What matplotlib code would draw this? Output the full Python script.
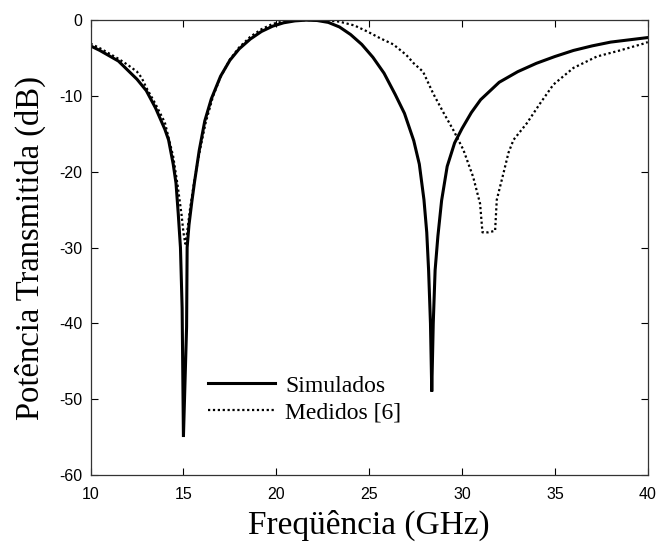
import matplotlib
matplotlib.use("Agg")
import matplotlib.pyplot as plt

plt.rcParams['axes.unicode_minus'] = False

# Simulated transmission (GHz, dB)
sim_freq = [10, 10.5, 11, 11.5, 12, 12.5, 13, 13.5, 14, 14.2, 14.45, 14.6, 14.72, 14.84,
            14.93, 15.0, 15.17, 15.2, 15.3, 15.45, 15.6, 15.85, 16.15, 16.5, 17, 17.5,
            18, 18.6, 19.2, 19.8, 20.4, 21, 21.6, 22.2, 22.8, 23.4, 24, 24.6, 25.2,
            25.8, 26.4, 26.9, 27.4, 27.7, 27.95, 28.1, 28.2, 28.3, 28.37, 28.45, 28.55,
            28.7, 28.9, 29.2, 29.6, 30, 30.5, 31, 32, 33, 34, 35, 36, 37, 38, 39, 40]
sim_db = [-3.4, -4.0, -4.7, -5.4, -6.6, -7.8, -9.3, -11.6, -14.4, -15.8, -19.0, -21.5,
          -25.5, -30.0, -38.0, -55.0, -40.5, -30.0, -27.0, -24.0, -21.3, -17.2, -13.3,
          -10.4, -7.4, -5.3, -3.8, -2.5, -1.5, -0.8, -0.35, -0.1, 0.0, -0.05, -0.3,
          -0.9, -1.9, -3.2, -4.9, -7.0, -9.8, -12.3, -15.9, -19.0, -23.7, -28.0, -33.0,
          -40.0, -49.0, -40.0, -33.0, -28.5, -23.8, -19.3, -16.2, -14.3, -12.2, -10.5,
          -8.2, -6.8, -5.7, -4.8, -4.0, -3.4, -2.9, -2.6, -2.3]

# Measured transmission [6] (GHz, dB)
meas_freq = [10, 10.5, 11, 11.5, 12, 12.5, 12.75, 13.0, 13.46, 14.0, 14.45, 14.7, 14.9,
             15.0, 15.1, 15.2, 15.35, 15.6, 15.9, 16.2, 16.6, 17.0, 17.5, 18, 18.6,
             19.2, 19.8, 20.4, 21, 22, 22.8, 23.4, 24.2, 24.9, 25.6, 26.3, 27.0, 27.4,
             27.9, 28.45, 29.0, 29.53, 30.07, 30.6, 30.97, 31.1, 31.4, 31.78, 31.87,
             32.23, 32.5, 32.77, 33.49, 34.2, 34.92, 36.0, 37.26, 38.5, 39.77, 40]
meas_db = [-3.1, -3.7, -4.4, -5.1, -5.9, -6.8, -7.6, -8.9, -10.9, -13.5, -18.0, -22.0,
           -25.7, -28.0, -29.5, -28.0, -25.0, -21.0, -17.0, -13.5, -10.0, -7.5, -5.2,
           -3.6, -2.2, -1.2, -0.5, -0.15, 0.0, 0.0, -0.05, -0.2, -0.7, -1.5, -2.4,
           -3.2, -4.6, -5.7, -6.8, -9.7, -12.2, -14.5, -17.1, -20.7, -24.2, -28.0,
           -28.0, -27.8, -23.7, -20.2, -17.5, -15.8, -13.6, -11.0, -8.5, -6.3, -4.8,
           -4.0, -3.1, -2.9]

x_ticks = [10, 15, 20, 25, 30, 35, 40]
y_ticks = [0, -10, -20, -30, -40, -50, -60]

fig = plt.figure(figsize=(6.61, 5.44), dpi=100)
ax = fig.add_axes([0.137, 0.127, 0.843, 0.836])

ax.plot(sim_freq, sim_db, color='black', linewidth=2.2, solid_joinstyle='miter',
        label='Simulados')
ax.plot(meas_freq, meas_db, color='black', linewidth=1.6, linestyle=(0, (1, 1.2)),
        label='Medidos [6]')

ax.set_xlim(10, 40)
ax.set_ylim(-60, 0)
ax.set_xticks(x_ticks)
ax.set_yticks(y_ticks)
ax.tick_params(direction='in', length=5, width=0.8, top=True, right=True,
               labelsize=11.5)
ax.tick_params(axis='x', pad=9)
ax.tick_params(axis='y', pad=6)
for lbl in ax.get_xticklabels() + ax.get_yticklabels():
    lbl.set_family('Liberation Sans')
for sp in ax.spines.values():
    sp.set_linewidth(0.9)
    sp.set_color('#333333')

ax.set_xlabel('Freqüência (GHz)', family='Liberation Serif', fontsize=24, labelpad=5)
ax.set_ylabel('Potência Transmitida (dB)', family='Liberation Serif', fontsize=23.5,
              labelpad=9)

ax.legend(loc='center left', bbox_to_anchor=(0.211, 0.166), frameon=False,
          borderpad=0, borderaxespad=0,
          handlelength=2.84, handletextpad=0.42, labelspacing=0.23,
          prop={'family': 'Liberation Serif', 'size': 17})

fig.savefig('out.png', dpi=100)
